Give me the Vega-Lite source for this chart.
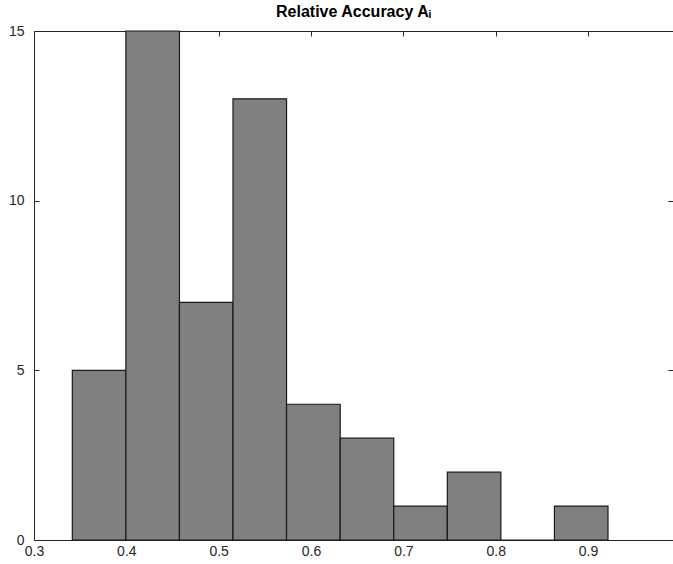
{
  "$schema": "https://vega.github.io/schema/vega-lite/v6.json",
  "width": 639,
  "height": 509,
  "autosize": {"type": "none"},
  "padding": {"left": 34, "top": 31, "right": 0, "bottom": 24},
  "background": "white",
  "title": {
    "text": "Relative Accuracy Aᵢ",
    "font": "Liberation Sans",
    "fontSize": 16,
    "fontWeight": "bold",
    "color": "#000000",
    "anchor": "middle",
    "offset": 4
  },
  "config": {
    "view": {"stroke": null},
    "axis": {
      "domainColor": "#262626",
      "domainWidth": 1,
      "tickColor": "#262626",
      "tickSize": -5,
      "tickWidth": 1,
      "labelFont": "Liberation Sans",
      "labelFontSize": 14,
      "labelColor": "#262626",
      "labelFlush": false,
      "labelOverlap": false,
      "grid": false,
      "title": null
    }
  },
  "data": {
    "values": [
      {"x0": 0.3415, "x1": 0.3995, "count": 5},
      {"x0": 0.3995, "x1": 0.4575, "count": 15},
      {"x0": 0.4575, "x1": 0.5155, "count": 7},
      {"x0": 0.5155, "x1": 0.5735, "count": 13},
      {"x0": 0.5735, "x1": 0.6316, "count": 4},
      {"x0": 0.6316, "x1": 0.6896, "count": 3},
      {"x0": 0.6896, "x1": 0.7476, "count": 1},
      {"x0": 0.7476, "x1": 0.8056, "count": 2},
      {"x0": 0.8056, "x1": 0.8636, "count": 0},
      {"x0": 0.8636, "x1": 0.9216, "count": 1}
    ]
  },
  "resolve": {"axis": {"x": "independent", "y": "independent"}},
  "layer": [
    {
      "mark": {"type": "rect", "fill": "#808080", "stroke": "#1a1a1a", "strokeWidth": 1.2},
      "encoding": {
        "x": {
          "field": "x0", "type": "quantitative",
          "scale": {"domain": [0.3, 0.992], "nice": false, "zero": false},
          "axis": {"orient": "bottom", "values": [0.3, 0.4, 0.5, 0.6, 0.7, 0.8, 0.9], "format": ".1f", "labelPadding": 9}
        },
        "x2": {"field": "x1"},
        "y": {
          "field": "count", "type": "quantitative",
          "scale": {"domain": [0, 15], "nice": false},
          "axis": {"orient": "left", "values": [0, 5, 10, 15], "labelPadding": 15}
        },
        "y2": {"datum": 0}
      }
    },
    {
      "mark": {"type": "rect", "opacity": 0},
      "encoding": {
        "x": {
          "field": "x0", "type": "quantitative",
          "scale": {"domain": [0.3, 0.992], "nice": false, "zero": false},
          "axis": {"orient": "top", "values": [0.3, 0.4, 0.5, 0.6, 0.7, 0.8, 0.9], "labels": false}
        },
        "x2": {"field": "x1"},
        "y": {
          "field": "count", "type": "quantitative",
          "scale": {"domain": [0, 15], "nice": false},
          "axis": {"orient": "right", "values": [0, 5, 10, 15], "labels": false}
        },
        "y2": {"datum": 0}
      }
    }
  ]
}
